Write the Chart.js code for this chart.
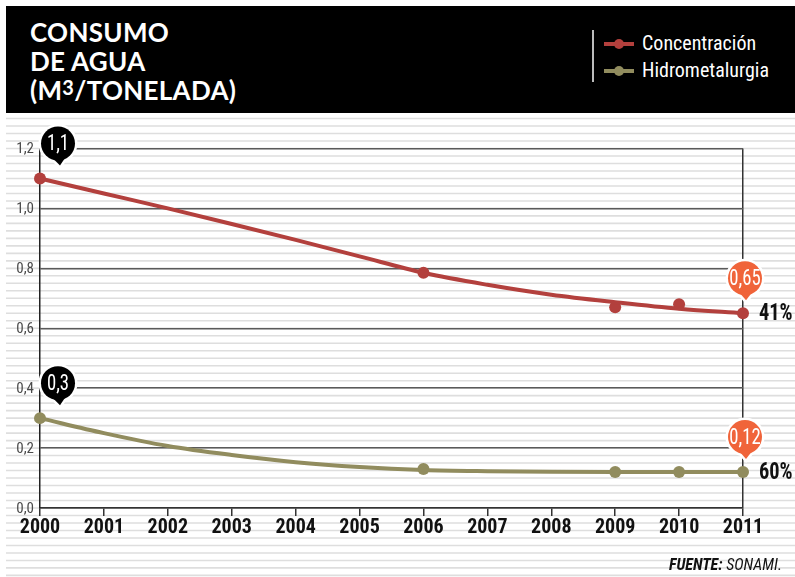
<!DOCTYPE html>
<html>
<head>
<meta charset="utf-8">
<script src="https://cdn.jsdelivr.net/npm/chart.js@4/dist/chart.umd.min.js"></script>
<style>
  body { margin: 0; background: #fff; }
  #wrap { position: relative; width: 795px; height: 577px; overflow: hidden; }
  #chart { position: absolute; left: 0; top: 0; }
  #header {
    position: absolute; left: 6px; top: 6px; width: 789px; height: 107px;
    background: #000;
  }
  #title {
    position: absolute; left: 24px; top: 12px;
    font-family: Lato, sans-serif; font-weight: 700; font-size: 26px;
    line-height: 29px; color: #fff; letter-spacing: 0.3px;
  }
  #title sup { font-size: 20px; vertical-align: 5px; line-height: 0; }
  #legend {
    position: absolute; left: 586px; top: 24px; height: 52px;
    border-left: 2px solid #bbb; padding-left: 10px;
  }
  .item {
    position: relative; height: 27px; line-height: 27px; padding-left: 38px;
    font-family: 'Roboto Condensed', 'Liberation Sans Narrow', 'DejaVu Sans Condensed', sans-serif;
    font-size: 20px; color: #fff; white-space: nowrap;
  }
  .item .ln { position: absolute; left: 0; top: 12px; width: 30px; height: 4px; }
  .item .dot { position: absolute; left: 10px; top: 9px; width: 10px; height: 10px; border-radius: 50%; }
  #fuente {
    position: absolute; right: 13px; top: 555px;
    font-family: 'Roboto Condensed', 'Liberation Sans Narrow', 'DejaVu Sans Condensed', sans-serif;
    font-style: italic; font-size: 16px; color: #111;
  }
</style>
</head>
<body>
<div id="wrap">
  <canvas id="chart" width="795" height="577"></canvas>
  <div id="header">
    <div id="title">CONSUMO<br>DE AGUA<br>(M<sup>3</sup>/TONELADA)</div>
    <div id="legend"></div>
  </div>
  <div id="fuente"><b>FUENTE:</b> SONAMI.</div>
</div>
<script>
'use strict';

// años con dato medido
var years = [2000, 2006, 2009, 2010, 2011];
var concentracion = [1.1, 0.785, 0.67, 0.68, 0.65];
var hidrometalurgia = [0.3, 0.13, 0.12, 0.12, 0.12];

// curva de tendencia, un valor por año
var curveYears = [2000, 2001, 2002, 2003, 2004, 2005, 2006, 2007, 2008, 2009, 2010, 2011];
var concentracionCurva = [1.1, 1.05, 1.0, 0.948, 0.895, 0.84, 0.785, 0.745, 0.712, 0.687, 0.665, 0.65];
var hidrometalurgiaCurva = [0.3, 0.25, 0.207, 0.177, 0.153, 0.137, 0.127, 0.123, 0.121, 0.12, 0.12, 0.12];

var yTicks = [0, 0.2, 0.4, 0.6, 0.8, 1.0, 1.2];

var RED = '#b3403d';
var OLIVE = '#918c5e';
var ORANGE = '#f0643a';
var NARROW = "'Roboto Condensed', 'Liberation Sans Narrow', 'DejaVu Sans Condensed', sans-serif";

function pts(xs, ys) {
  return xs.map(function(x, i) { return {x: x, y: ys[i]}; });
}

function coma(v) {
  return String(v).replace('.', ',');
}

// texto con ancho ajustable
function narrowText(ctx, text, x, y, align, sx) {
  ctx.save();
  ctx.translate(x, y);
  ctx.scale(sx, 1);
  ctx.textAlign = align;
  ctx.fillText(text, 0, 0);
  ctx.restore();
}

// leyenda en la franja negra
var legend = document.getElementById('legend');
[['Concentración', RED], ['Hidrometalurgia', OLIVE]].forEach(function(it) {
  var d = document.createElement('div');
  d.className = 'item';
  d.innerHTML = '<span class="ln" style="background:' + it[1] + '"></span>' +
    '<span class="dot" style="background:' + it[1] + '"></span>' + it[0];
  legend.appendChild(d);
});

// fondo rayado, alineado con el eje y
var stripes = {
  id: 'stripes',
  beforeDraw: function(chart) {
    var ctx = chart.ctx, y = chart.scales.y;
    ctx.save();
    ctx.strokeStyle = '#dedede';
    ctx.lineWidth = 1.6;
    for (var k = -10; k < 80; k++) {
      var py = y.getPixelForValue(k * 0.025);
      if (py < 117 || py > 577) continue;
      ctx.beginPath();
      ctx.moveTo(6, py);
      ctx.lineTo(795, py);
      ctx.stroke();
    }
    ctx.restore();
  }
};

// etiquetas de los ejes
var axisLabels = {
  id: 'axisLabels',
  afterDraw: function(chart) {
    var ctx = chart.ctx, xs = chart.scales.x, ys = chart.scales.y;
    ctx.save();
    ctx.textBaseline = 'middle';
    ctx.fillStyle = '#111';
    ctx.font = 'bold 20px ' + NARROW;
    xs.ticks.forEach(function(t, i) {
      narrowText(ctx, String(t.value), xs.getPixelForTick(i), chart.chartArea.bottom + 20, 'center', 1);
    });
    ctx.fillStyle = '#4a4a4a';
    ctx.font = '15px ' + NARROW;
    ys.ticks.forEach(function(t, i) {
      narrowText(ctx, t.value.toFixed(1).replace('.', ','), 34, ys.getPixelForTick(i) + 1, 'right', 1);
    });
    ctx.restore();
  }
};

function bubble(ctx, px, py, text, fill) {
  var cx = px + 18, cy = py - 35, r = 17;
  var tx = px + 20, ty = py - 13;
  if (px > 700) { cx = px + 2; tx = px + 3; }
  ctx.save();
  ctx.beginPath();
  ctx.arc(cx, cy, r, 0, Math.PI * 2);
  ctx.moveTo(cx - 6, cy + r - 3);
  ctx.lineTo(tx, ty);
  ctx.lineTo(cx + 8, cy + r - 4);
  ctx.closePath();
  ctx.lineWidth = 5;
  ctx.strokeStyle = '#fff';
  ctx.stroke();
  ctx.fillStyle = fill;
  ctx.beginPath();
  ctx.arc(cx, cy, r, 0, Math.PI * 2);
  ctx.fill();
  ctx.beginPath();
  ctx.moveTo(cx - 6, cy + r - 3);
  ctx.lineTo(tx, ty);
  ctx.lineTo(cx + 8, cy + r - 4);
  ctx.closePath();
  ctx.fill();
  ctx.fillStyle = '#fff';
  ctx.font = '22px ' + NARROW;
  ctx.textBaseline = 'middle';
  narrowText(ctx, text, cx, cy + 1, 'center', 0.85);
  ctx.restore();
}

// globos con valores inicial/final y porcentaje de baja
var callouts = {
  id: 'callouts',
  afterDatasetsDraw: function(chart) {
    var ctx = chart.ctx, xs = chart.scales.x, ys = chart.scales.y;
    [concentracion, hidrometalurgia].forEach(function(serie) {
      var first = serie[0], last = serie[serie.length - 1];
      var x0 = xs.getPixelForValue(years[0]);
      var x1 = xs.getPixelForValue(years[years.length - 1]);
      bubble(ctx, x0, ys.getPixelForValue(first), coma(first), '#000');
      bubble(ctx, x1, ys.getPixelForValue(last), coma(last), ORANGE);
      var pct = Math.round((first - last) / first * 100) + '%';
      ctx.save();
      ctx.fillStyle = '#111';
      ctx.font = 'bold 24px ' + NARROW;
      ctx.textBaseline = 'middle';
      narrowText(ctx, pct, x1 + 16, ys.getPixelForValue(last) + 1, 'left', 0.85);
      ctx.restore();
    });
  }
};

var ctx = document.getElementById('chart');

new Chart(ctx, {
  type: 'line',
  data: {
    datasets: [
      {data: pts(curveYears, concentracionCurva), borderColor: RED, borderWidth: 4,
       pointRadius: 0, cubicInterpolationMode: 'monotone', clip: false},
      {data: pts(curveYears, hidrometalurgiaCurva), borderColor: OLIVE, borderWidth: 4,
       pointRadius: 0, cubicInterpolationMode: 'monotone', clip: false},
      {data: pts(years, concentracion), showLine: false, pointRadius: 6,
       pointBackgroundColor: RED, pointBorderWidth: 0, clip: false},
      {data: pts(years, hidrometalurgia), showLine: false, pointRadius: 6,
       pointBackgroundColor: OLIVE, pointBorderWidth: 0, clip: false}
    ]
  },
  options: {
    responsive: false,
    animation: false,
    layout: {padding: {left: 0, right: 52, top: 148.5, bottom: 39}},
    plugins: {legend: {display: false}, tooltip: {enabled: false}},
    scales: {
      x: {
        type: 'linear', min: 2000, max: 2011,
        afterFit: function(s) { s.height = 30; },
        ticks: {stepSize: 1, display: false},
        grid: {
          color: function(c) { return c.tick && c.tick.value === 2011 ? '#333' : 'rgba(0,0,0,0)'; },
          tickColor: '#333', tickLength: 8, lineWidth: 1.5
        },
        border: {display: true, color: '#333', width: 1.5}
      },
      y: {
        min: 0, max: 1.2,
        afterFit: function(s) { s.width = 40; },
        afterBuildTicks: function(s) { s.ticks = yTicks.map(function(v) { return {value: v}; }); },
        ticks: {display: false},
        grid: {color: '#5a5a5a', lineWidth: 1.5, drawTicks: false},
        border: {display: true, color: '#222', width: 1.5}
      }
    }
  },
  plugins: [stripes, callouts, axisLabels]
});
</script>
</body>
</html>
